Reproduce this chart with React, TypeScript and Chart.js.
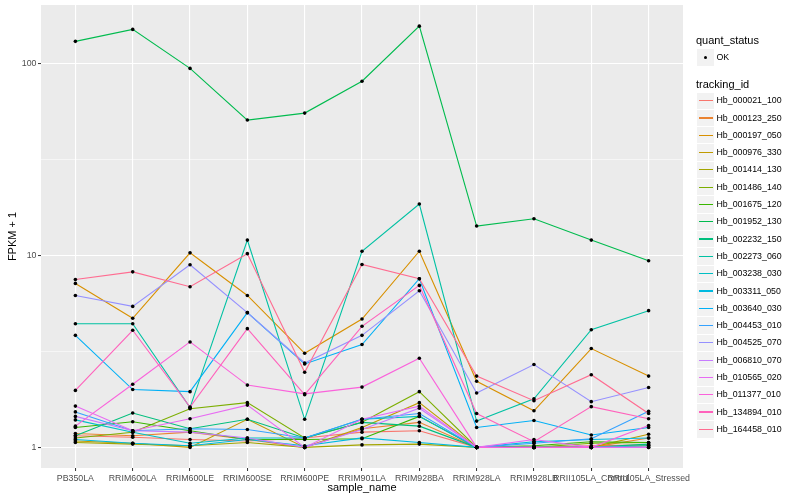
import React, { useEffect, useRef } from "react";
import { Chart, registerables } from "chart.js";

Chart.register(...registerables);

const FONT = "'Liberation Sans', Arial, Helvetica, sans-serif";

const categories = [
  "PB350LA",
  "RRIM600LA",
  "RRIM600LE",
  "RRIM600SE",
  "RRIM600PE",
  "RRIM901LA",
  "RRIM928BA",
  "RRIM928LA",
  "RRIM928LB",
  "RRII105LA_Control",
  "RRII105LA_Stressed",
];

const trackingIds = [
  "Hb_000021_100",
  "Hb_000123_250",
  "Hb_000197_050",
  "Hb_000976_330",
  "Hb_001414_130",
  "Hb_001486_140",
  "Hb_001675_120",
  "Hb_001952_130",
  "Hb_002232_150",
  "Hb_002273_060",
  "Hb_003238_030",
  "Hb_003311_050",
  "Hb_003640_030",
  "Hb_004453_010",
  "Hb_004525_070",
  "Hb_006810_070",
  "Hb_010565_020",
  "Hb_011377_010",
  "Hb_134894_010",
  "Hb_164458_010",
];

// FPKM + 1 per sample, in category order
const hb_000021_100 = [1.15, 1.13, 1.1, 1.08, 1.12, 1.2, 1.22, 1.0, 1.0, 1.02, 1.03];
const hb_000123_250 = [1.18, 1.15, 1.2, 1.1, 1.0, 1.25, 1.35, 1.0, 1.0, 1.0, 1.12];
const hb_000197_050 = [7.14, 4.7, 10.3, 6.18, 3.09, 4.66, 10.5, 2.21, 1.55, 3.27, 2.35];
const hb_000976_330 = [1.08, 1.05, 1.0, 1.4, 1.0, 1.27, 1.71, 1.0, 1.0, 1.0, 1.17];
const hb_001414_130 = [1.06, 1.04, 1.02, 1.06, 1.0, 1.03, 1.04, 1.0, 1.0, 1.0, 1.02];
const hb_001486_140 = [1.12, 1.2, 1.59, 1.71, 1.12, 1.35, 1.95, 1.0, 1.0, 1.05, 1.06];
const hb_001675_120 = [1.27, 1.36, 1.22, 1.1, 1.1, 1.11, 1.45, 1.0, 1.02, 1.07, 1.06];
const hb_001952_130 = [130, 150, 94, 50.6, 55, 80.6, 156, 14.2, 15.5, 12.0, 9.37];
const hb_002232_150 = [1.15, 1.51, 1.25, 1.4, 1.12, 1.35, 1.29, 1.0, 1.0, 1.0, 1.04];
const hb_002273_060 = [4.4, 4.4, 1.61, 12.0, 1.4, 10.5, 18.5, 1.37, 1.79, 4.1, 5.15];
const hb_003238_030 = [1.39, 1.2, 1.05, 1.12, 1.12, 1.4, 1.45, 1.0, 1.0, 1.0, 1.02];
const hb_003311_050 = [1.1, 1.05, 1.02, 1.1, 1.02, 1.12, 1.06, 1.0, 1.07, 1.1, 1.12];
const hb_003640_030 = [3.83, 2.0, 1.95, 5.03, 2.72, 3.43, 7.55, 1.27, 1.38, 1.16, 1.27];
const hb_004453_010 = [1.53, 1.22, 1.25, 1.24, 1.12, 1.4, 1.5, 1.0, 1.05, 1.11, 1.54];
const hb_004525_070 = [6.18, 5.42, 8.93, 5.03, 2.75, 3.83, 6.54, 1.92, 2.7, 1.73, 2.05];
const hb_006810_070 = [1.45, 1.22, 1.2, 1.12, 1.0, 1.24, 1.6, 1.0, 1.0, 1.0, 1.0];
const hb_010565_020 = [1.64, 1.22, 1.41, 1.66, 1.0, 1.4, 1.64, 1.0, 1.1, 1.0, 1.0];
const hb_011377_010 = [1.29, 2.13, 3.54, 2.11, 1.9, 2.06, 2.91, 1.0, 1.0, 1.0, 1.3];
const hb_134894_010 = [1.98, 4.07, 1.62, 4.15, 1.88, 4.27, 6.97, 1.5, 1.07, 1.63, 1.41];
const hb_164458_010 = [7.48, 8.2, 6.86, 10.2, 2.46, 8.96, 7.55, 2.35, 1.75, 2.39, 1.5];

const seriesValues = [
  hb_000021_100,
  hb_000123_250,
  hb_000197_050,
  hb_000976_330,
  hb_001414_130,
  hb_001486_140,
  hb_001675_120,
  hb_001952_130,
  hb_002232_150,
  hb_002273_060,
  hb_003238_030,
  hb_003311_050,
  hb_003640_030,
  hb_004453_010,
  hb_004525_070,
  hb_006810_070,
  hb_010565_020,
  hb_011377_010,
  hb_134894_010,
  hb_164458_010,
];

const yTickLabels = [1, 10, 100];
const yGridValues = [1, Math.sqrt(10), 10, Math.sqrt(1000), 100];

const palette = [
  "#F8766D", "#EA8331", "#D89000", "#C09B00", "#A3A500",
  "#7CAE00", "#39B600", "#00BB4E", "#00BF7D", "#00C1A3",
  "#00BFC4", "#00BAE0", "#00B0F6", "#35A2FF", "#9590FF",
  "#C77CFF", "#E76BF3", "#FA62DB", "#FF62BC", "#FF6C91",
];

const isMajor = (v: number) =>
  Math.abs(Math.log10(v) - Math.round(Math.log10(v))) < 1e-6;

const panelBg = {
  id: "panelBg",
  beforeDraw(chart: any) {
    const { ctx, chartArea } = chart;
    ctx.save();
    ctx.fillStyle = "#EBEBEB";
    ctx.fillRect(
      chartArea.left,
      chartArea.top,
      chartArea.right - chartArea.left,
      chartArea.bottom - chartArea.top
    );
    ctx.restore();
  },
};

export default function App() {
  const canvasRef = useRef<HTMLCanvasElement | null>(null);

  useEffect(() => {
    if (!canvasRef.current) return;
    const lineSets = seriesValues.map((vals, i) => ({
      type: "line" as const,
      label: trackingIds[i],
      data: vals.map((v, j) => ({ x: j, y: v })),
      borderColor: palette[i],
      backgroundColor: palette[i],
      borderWidth: 1.1,
      pointRadius: 0,
      tension: 0,
      fill: false,
      order: 100 - i,
    }));
    const pointSet = {
      type: "scatter" as const,
      label: "OK",
      data: seriesValues.flatMap((vals) => vals.map((v, j) => ({ x: j, y: v }))),
      pointRadius: 1.8,
      pointBackgroundColor: "#000000",
      pointBorderWidth: 0,
      showLine: false,
      order: 0,
    };

    const chart = new Chart(canvasRef.current, {
      type: "line",
      data: { datasets: [...lineSets, pointSet] as any },
      plugins: [panelBg],
      options: {
        animation: false,
        responsive: false,
        events: [],
        layout: { padding: { left: 0, top: 5, right: 117, bottom: 0 } },
        plugins: {
          legend: { display: false },
          tooltip: { enabled: false },
        },
        scales: {
          x: {
            type: "linear",
            min: -0.6,
            max: categories.length - 1 + 0.6,
            afterBuildTicks: (s: any) => {
              s.ticks = categories.map((_, i) => ({ value: i }));
            },
            afterFit: (s: any) => {
              s.height = 32;
              s.paddingLeft = 0;
              s.paddingRight = 0;
            },
            ticks: {
              autoSkip: false,
              maxRotation: 0,
              minRotation: 0,
              padding: 2,
              color: "#4D4D4D",
              font: { family: FONT, size: 8.8 },
              callback: (v: any) => categories[Math.round(Number(v))] ?? "",
            },
            grid: {
              color: "#FFFFFF",
              lineWidth: 1.1,
              drawTicks: true,
              tickLength: 3,
              tickColor: "#333333",
              tickWidth: 1,
            },
            border: { display: false },
            title: {
              display: true,
              text: "sample_name",
              color: "#000000",
              font: { family: FONT, size: 11 },
              padding: { top: 0, bottom: 5 },
            },
          },
          y: {
            type: "logarithmic",
            min: 0.781,
            max: 201,
            afterBuildTicks: (s: any) => {
              s.ticks = yGridValues.map((v) => ({ value: v }));
            },
            afterFit: (s: any) => {
              s.width = 41;
              s.paddingTop = 0;
              s.paddingBottom = 0;
            },
            ticks: {
              padding: 1.5,
              color: "#4D4D4D",
              font: { family: FONT, size: 8.8 },
              callback: (v: any) => {
                const n = Number(v);
                const hit = yTickLabels.find((t) => Math.abs(t - n) < 1e-6);
                return hit !== undefined ? String(hit) : "";
              },
            },
            grid: {
              color: "#FFFFFF",
              lineWidth: (c: any) => (c.tick && isMajor(c.tick.value) ? 1.1 : 0.55),
              drawTicks: true,
              tickLength: 3,
              tickColor: (c: any) =>
                c.tick && isMajor(c.tick.value) ? "#333333" : "rgba(0,0,0,0)",
              tickWidth: 1,
            },
            border: { display: false },
            title: {
              display: true,
              text: "FPKM + 1",
              color: "#000000",
              font: { family: FONT, size: 11 },
              padding: { top: 6, bottom: 0 },
            },
          },
        },
      } as any,
    });
    return () => chart.destroy();
  }, []);

  const rowStart = 100.7;
  const rowStep = 17.3;

  return (
    <div
      style={{
        position: "fixed",
        left: 0,
        top: 0,
        width: 800,
        height: 500,
        background: "#FFFFFF",
        fontFamily: FONT,
      }}
    >
      <canvas ref={canvasRef} width={800} height={500} style={{ width: 800, height: 500 }} />
      <div style={{ position: "absolute", left: 696, top: 33, fontSize: 11, lineHeight: "14px", color: "#000" }}>
        quant_status
      </div>
      <div style={{ position: "absolute", left: 697, top: 49, width: 17, height: 17, background: "#F2F2F2" }}>
        <div
          style={{
            position: "absolute",
            left: 6.7,
            top: 6.7,
            width: 3.6,
            height: 3.6,
            borderRadius: "50%",
            background: "#000",
          }}
        />
      </div>
      <div style={{ position: "absolute", left: 716.5, top: 51.5, fontSize: 8.8, lineHeight: "11px", color: "#000" }}>
        OK
      </div>
      <div style={{ position: "absolute", left: 696, top: 77, fontSize: 11, lineHeight: "14px", color: "#000" }}>
        tracking_id
      </div>
      {trackingIds.map((id, i) => {
        const cy = rowStart + i * rowStep;
        return (
          <React.Fragment key={id}>
            <div
              style={{
                position: "absolute",
                left: 697,
                top: cy - 8.2,
                width: 17,
                height: 16.4,
                background: "#F2F2F2",
              }}
            >
              <div
                style={{
                  position: "absolute",
                  left: 1.5,
                  top: 7.6,
                  width: 14,
                  height: 1.2,
                  background: palette[i],
                }}
              />
            </div>
            <div
              style={{
                position: "absolute",
                left: 716.5,
                top: cy - 5.5,
                fontSize: 8.8,
                lineHeight: "11px",
                color: "#000",
                whiteSpace: "nowrap",
              }}
            >
              {id}
            </div>
          </React.Fragment>
        );
      })}
    </div>
  );
}
